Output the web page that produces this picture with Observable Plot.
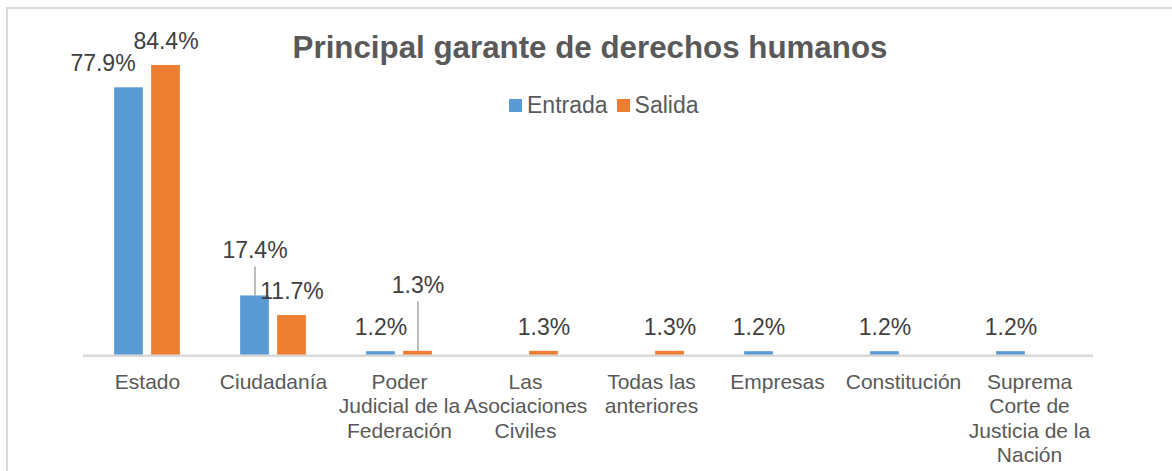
<!DOCTYPE html>
<html>
<head>
<meta charset="utf-8">
<script src="https://cdn.jsdelivr.net/npm/d3@7"></script>
<script src="https://cdn.jsdelivr.net/npm/@observablehq/plot@0.6"></script>
<style>
  html, body { margin: 0; padding: 0; background: #fff; }
  #wrap { position: relative; width: 1172px; height: 471px; overflow: hidden; font-family: "Liberation Sans", Arial, sans-serif; }
  #box { position: absolute; left: 6px; top: 7px; width: 1300px; height: 600px; border-top: 2px solid #d9d9d9; border-left: 2px solid #d9d9d9; }
  #title { position: absolute; left: 0; width: 1180px; top: 31.5px; text-align: center; font-size: 31.3px; line-height: 32px; font-weight: bold; color: #595959; white-space: nowrap; }
  #legend { position: absolute; left: 509px; top: 94px; font-size: 23px; line-height: 23px; color: #595959; white-space: nowrap; display: flex; align-items: center; }
  #legend .sw { display: inline-block; width: 13px; height: 13px; margin-right: 5px; }
  #legend .item { display: flex; align-items: center; margin-right: 9px; }
  #chart { position: absolute; left: 0; top: 0; }
</style>
</head>
<body>
<div id="wrap">
  <div id="box"></div>
  <div id="chart"></div>
  <div id="title">Principal garante de derechos humanos</div>
  <div id="legend"></div>
</div>
<script>
// ---- data ----
const categories = ["Estado", "Ciudadanía", "Poder Judicial de la Federación", "Las Asociaciones Civiles", "Todas las anteriores", "Empresas", "Constitución", "Suprema Corte de Justicia de la Nación"];
const tickLabels = ["Estado", "Ciudadanía", "Poder\nJudicial de la\nFederación", "Las\nAsociaciones\nCiviles", "Todas las\nanteriores", "Empresas", "Constitución", "Suprema\nCorte de\nJusticia de la\nNación"];
const seriesNames = ["Entrada", "Salida"];
const entrada = [77.9, 17.4, 1.2, null, null, 1.2, 1.2, 1.2];
const salida = [84.4, 11.7, 1.3, 1.3, 1.3, null, null, null];
const colors = ["#5b9bd5", "#ed7d31"];

// ---- layout ----
const W = 1172, H = 471;
const marginLeft = 83, marginRight = 79, marginTop = 11.3, marginBottom = 115.7;
const plotH = H - marginTop - marginBottom;
const pxPerUnit = plotH / 100;
const bw = (W - marginLeft - marginRight) / categories.length;
const barW = 29, gap = 8;
const off = gap / 2 + barW / 2; // center offset of each bar from category center

const rows = [];
categories.forEach((c, i) => {
  if (entrada[i] != null) rows.push({cat: c, serie: "Entrada", value: entrada[i]});
  if (salida[i] != null) rows.push({cat: c, serie: "Salida", value: salida[i]});
});
const fmt = v => v.toFixed(1) + "%";

// special label placements (moved labels with leader lines)
const special = {
  "Estado|Entrada": {dx: -26, dy: -16.5},
  "Ciudadanía|Entrada": {dx: 0, dy: -38, leader: 29},
  "Poder Judicial de la Federación|Salida": {dx: 0, dy: -58.5, leader: 49.5}
};
const key = d => d.cat + "|" + d.serie;

const marks = [];
seriesNames.forEach((s, si) => {
  const data = rows.filter(d => d.serie === s);
  const sdx = si === 0 ? -off : off;
  marks.push(Plot.barY(data, {
    x: "cat", y: "value", fill: colors[si],
    insetLeft: si === 0 ? bw / 2 - gap / 2 - barW : bw / 2 + gap / 2,
    insetRight: si === 0 ? bw / 2 + gap / 2 : bw / 2 - gap / 2 - barW
  }));
  // default labels
  marks.push(Plot.text(data.filter(d => !special[key(d)]), {
    x: "cat", y: "value", text: d => fmt(d.value), dx: sdx, dy: -16.5,
    lineAnchor: "bottom", fontSize: 23, fill: "#404040"
  }));
  // special labels
  data.filter(d => special[key(d)]).forEach(d => {
    const sp = special[key(d)];
    marks.push(Plot.text([d], {
      x: "cat", y: "value", text: d => fmt(d.value), dx: sdx + sp.dx, dy: sp.dy,
      lineAnchor: "bottom", fontSize: 23, fill: "#404040"
    }));
    if (sp.leader) {
      marks.push(Plot.ruleX([d], {
        x: "cat", y1: "value", y2: d => d.value + sp.leader / pxPerUnit,
        dx: sdx, stroke: "#a6a6a6", strokeWidth: 1.5
      }));
    }
  });
});
marks.push(Plot.ruleY([0], {stroke: "#d9d9d9", strokeWidth: 2.5}));
marks.push(Plot.text(categories, {
  x: d => d, text: (d, i) => tickLabels[i], frameAnchor: "bottom",
  lineAnchor: "top", dy: 15.6, fontSize: 21, lineHeight: 24.5 / 21, fill: "#595959"
}));

const chart = Plot.plot({
  width: W, height: H,
  marginLeft, marginRight, marginTop, marginBottom,
  x: {domain: categories, padding: 0, axis: null},
  y: {domain: [0, 100], axis: null},
  style: {fontFamily: '"Liberation Sans", Arial, sans-serif', background: "transparent", overflow: "visible"},
  marks
});
document.getElementById("chart").appendChild(chart);

// legend
const lg = document.getElementById("legend");
seriesNames.forEach((s, i) => {
  const it = document.createElement("span");
  it.className = "item";
  const sw = document.createElement("span");
  sw.className = "sw";
  sw.style.background = colors[i];
  it.appendChild(sw);
  it.appendChild(document.createTextNode(s));
  lg.appendChild(it);
});
</script>
</body>
</html>
